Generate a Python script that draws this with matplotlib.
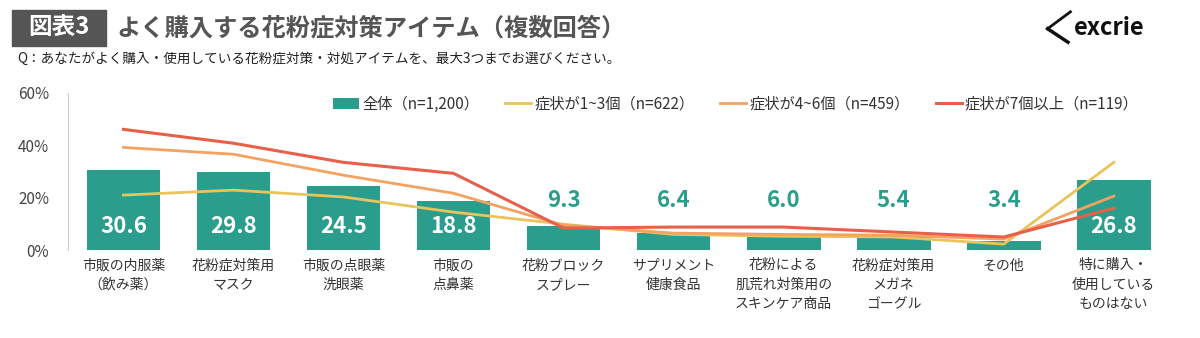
import numpy as np
import matplotlib.pyplot as plt
from matplotlib.patches import Rectangle

plt.rcParams['font.family'] = ['Noto Sans CJK JP', 'DejaVu Sans']

# データ
categories = ["市販の内服薬\n（飲み薬）", "花粉症対策用\nマスク", "市販の点眼薬\n洗眼薬", "市販の\n点鼻薬",
              "花粉ブロック\nスプレー", "サプリメント\n健康食品", "花粉による\n肌荒れ対策用の\nスキンケア商品",
              "花粉症対策用\nメガネ\nゴーグル", "その他", "特に購入・\n使用している\nものはない"]
total = [30.6, 29.8, 24.5, 18.8, 9.3, 6.4, 6.0, 5.4, 3.4, 26.8]
sym_1_3 = [21.0, 22.9, 20.3, 14.5, 9.9, 6.0, 5.3, 5.0, 2.3, 33.5]
sym_4_6 = [39.2, 36.6, 28.6, 21.7, 9.5, 6.5, 6.0, 5.7, 4.2, 20.6]
sym_7 = [46.1, 40.8, 33.5, 29.3, 8.4, 8.8, 8.8, 6.9, 5.0, 16.0]

teal = "#2a9d8c"
c_yellow = "#e9c35c"
c_orange = "#f4a261"
c_red = "#e76049"
gray = "#444444"

fig = plt.figure(figsize=(12, 3.38), dpi=100)
ax = fig.add_axes([0.057, 0.26, 0.917, 0.465])

x = np.arange(len(categories))
b = ax.bar(x, total, width=0.67, color=teal, label="全体（n=1,200）", zorder=1)
l1, = ax.plot(x, sym_1_3, color=c_yellow, lw=2, label="症状が1~3個（n=622）", zorder=2)
l2, = ax.plot(x, sym_4_6, color=c_orange, lw=2, label="症状が4~6個（n=459）", zorder=3)
l3, = ax.plot(x, sym_7, color=c_red, lw=2.2, label="症状が7個以上（n=119）", zorder=4)

for i, v in enumerate(total):
    if v > 15:
        ax.text(i, 9.0, f"{v:.1f}", ha="center", va="center", color="white",
                fontsize=16, fontweight="bold", zorder=5)
    else:
        ax.text(i, 19.0, f"{v:.1f}", ha="center", va="center", color=teal,
                fontsize=16, fontweight="bold", zorder=5)

ax.set_xlim(-0.5, 9.5)
ax.set_ylim(0, 60)
ax.set_yticks([0, 20, 40, 60])
ax.set_yticklabels(["0%", "20%", "40%", "60%"])
ax.tick_params(axis="y", length=0, labelsize=11, colors=gray, pad=14)
ax.set_xticks(x)
ax.set_xticklabels(categories, fontsize=10, color="#333333", linespacing=1.5, va="top")
ax.tick_params(axis="x", length=0, pad=6)
for s in ["top", "right", "bottom"]:
    ax.spines[s].set_visible(False)
ax.spines["left"].set_color("#cccccc")

ax.legend(handles=[b, l1, l2, l3], loc="upper right", bbox_to_anchor=(0.985, 1.07), ncol=4,
          frameon=False, fontsize=11, handlelength=1.7, handletextpad=0.2,
          columnspacing=1.7, labelcolor="#333333")

# タイトル
fig.patches.append(Rectangle((0.01, 0.865), 0.078, 0.105, transform=fig.transFigure,
                             color="#555555", zorder=0))
fig.text(0.049, 0.917, "図表3", color="white", fontsize=17, fontweight="bold",
         ha="center", va="center")
fig.text(0.097, 0.917, "よく購入する花粉症対策アイテム（複数回答）", color="#555555",
         fontsize=17.5, fontweight="bold", ha="left", va="center")
fig.text(0.014, 0.825, "Q：あなたがよく購入・使用している花粉症対策・対処アイテムを、最大3つまでお選びください。",
         color="#222222", fontsize=9.8, ha="left", va="center")

# ロゴ
fig.text(0.895, 0.918, "excrie", color="#111111", fontsize=17, fontweight="bold",
         ha="left", va="center")
fig.add_artist(plt.Line2D([0.873, 0.892], [0.915, 0.965], color="#111111", lw=2,
                          transform=fig.transFigure))
fig.add_artist(plt.Line2D([0.873, 0.890], [0.915, 0.875], color="#111111", lw=2.5,
                          transform=fig.transFigure))

fig.savefig("out.png", dpi=100, facecolor="white")
plt.close()
